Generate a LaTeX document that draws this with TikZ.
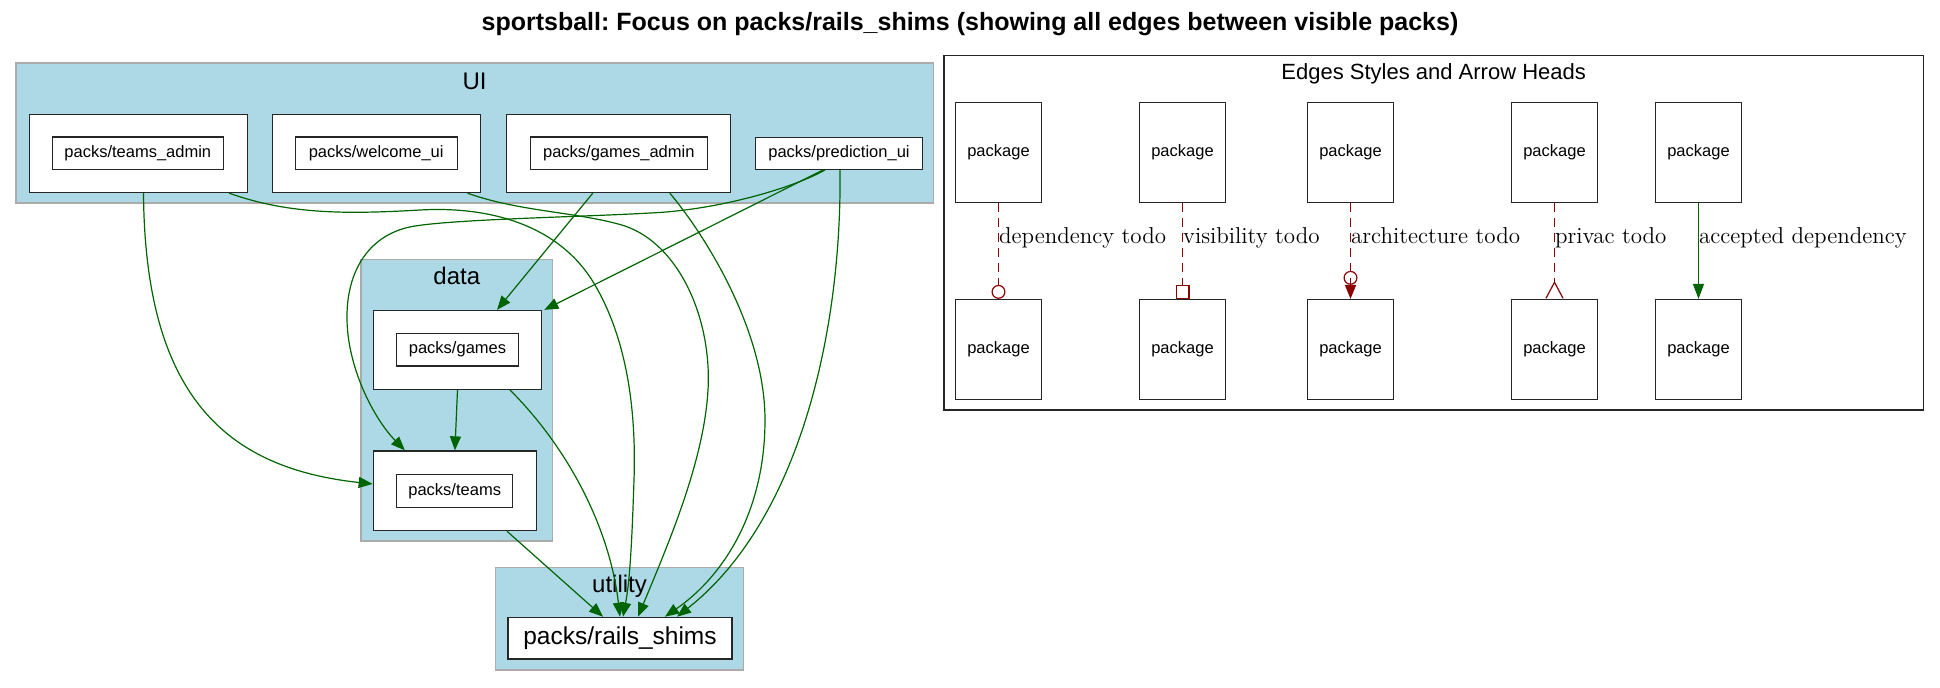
\documentclass[tikz,border=0pt]{standalone}
\usepackage{fontspec}
\newfontfamily\sansf{Liberation Sans}
\usetikzlibrary{arrows.meta}
\definecolor{clusterfill}{HTML}{ADD8E6}
\definecolor{clusterline}{HTML}{ABABAB}
\definecolor{depgreen}{HTML}{006400}
\definecolor{todored}{HTML}{8B0000}
\frenchspacing

\begin{document}
\begin{tikzpicture}[x=0.5pt, y=-0.5pt,
  cluster/.style={draw=clusterline, fill=clusterfill, line width=0.7pt, inner sep=0pt},
  legendframe/.style={draw=black!85, fill=white, line width=0.6pt, inner sep=0pt},
  packframe/.style={draw=black!85, fill=white, line width=0.65pt, inner sep=0pt},
  packname/.style={draw=black!85, fill=white, line width=0.65pt, inner sep=0pt,
    font=\sansf\fontsize{8.25}{9}\selectfont},
  clabel/.style={anchor=base, inner sep=0pt, font=\sansf\fontsize{12}{14}\selectfont},
  dep/.style={color=depgreen, line width=0.6pt, -{Triangle[length=7pt, width=5.5pt]}},
  todo/.style={color=todored, line width=0.6pt, dash pattern=on 4.5pt off 3pt},
  legendpkg/.style={draw=black!85, fill=white, line width=0.65pt, minimum width=43pt,
    minimum height=50pt, inner sep=0pt, font=\sansf\fontsize{8.25}{9}\selectfont},
  elabel/.style={anchor=base west, inner sep=0pt, text=black,
    font=\fontsize{11.5}{13}\selectfont},
]
\useasboundingbox (0,0) rectangle (1940,687);

% title
\node[anchor=base, inner sep=0pt, font=\sansf\bfseries\fontsize{12.5}{15}\selectfont] (title)
  at (970,30) {sportsball: Focus on packs/rails\_shims (showing all edges between visible packs)};

% clusters
\node[cluster, minimum width=458.65pt, minimum height=70pt] (ui) at (474.65,133) {};
\node[clabel] (uilabel) at (474.65,89) {UI};
\node[cluster, minimum width=95.85pt, minimum height=140.85pt] (data) at (456.85,400.15) {};
\node[clabel] (datalabel) at (456.85,284.3) {data};
\node[cluster, minimum width=123.8pt, minimum height=51.35pt] (utility) at (619.5,618.65) {};
\node[clabel] (utilitylabel) at (619.5,592.5) {utility};

% packs in UI
\node[packframe, minimum width=109pt, minimum height=39pt] (taO) at (138.5,153.5) {};
\node[packname, minimum width=85.5pt, minimum height=16.2pt] (ta) at (137.8,153.2) {packs/teams\_admin};
\node[packframe, minimum width=104pt, minimum height=39pt] (weO) at (376.5,153.5) {};
\node[packname, minimum width=81pt, minimum height=16.2pt] (we) at (376.2,153.2) {packs/welcome\_ui};
\node[packframe, minimum width=112pt, minimum height=39pt] (gaO) at (618.5,153.5) {};
\node[packname, minimum width=88.5pt, minimum height=16.2pt] (ga) at (618.8,153.2) {packs/games\_admin};
\node[packname, minimum width=83.7pt, minimum height=16pt] (pu) at (839,153.3) {packs/prediction\_ui};

% packs in data
\node[packframe, minimum width=84.2pt, minimum height=39.4pt] (gO) at (457.5,349.9) {};
\node[packname, minimum width=60.8pt, minimum height=16.35pt] (g) at (457.5,349.7) {packs/games};
\node[packframe, minimum width=81.6pt, minimum height=39.75pt] (teO) at (454.9,490.75) {};
\node[packname, minimum width=58pt, minimum height=16.5pt] (te) at (454.7,490.8) {packs/teams};

% pack in utility
\node[packname, minimum width=112pt, minimum height=20.85pt, font=\sansf\fontsize{12.25}{14}\selectfont]
  (rs) at (620,638.2) {packs/rails\_shims};

% dependencies
\draw[dep] ([xshift=2.5pt]taO.south) .. controls (145,395) and (225,468) .. ([yshift=3.4pt]teO.west);
\draw[dep] ([xshift=-9.5pt]taO.south east) .. controls (290,215) and (350,214) .. (420,210)
  .. controls (490,206) and (560,225) .. (595,285)
  .. controls (630,345) and (636,420) .. (634,480)
  .. controls (632,540) and (630,580) .. ([xshift=1.5pt]rs.north);
\draw[dep] ([xshift=-6.85pt]weO.south east) .. controls (520,212) and (580,212) .. (625,226)
  .. controls (680,245) and (712,320) .. (708,390)
  .. controls (704,460) and (670,540) .. ([xshift=9pt]rs.north);
\draw[dep] ([xshift=-12.85pt]gaO.south) -- ([xshift=19.75pt]gO.north);
\draw[dep] ([xshift=25.65pt]gaO.south) .. controls (705,235) and (765,330) .. (765,420)
  .. controls (765,510) and (725,575) .. ([xshift=22.5pt]rs.north);
\draw[dep] ([xshift=-8pt]pu.south) -- ([xshift=1pt]gO.north east);
\draw[dep] ([xshift=-7pt]pu.south) .. controls (795,187) and (720,210) .. (650,213)
  .. controls (580,217) and (460,219) .. (415,226)
  .. controls (370,233) and (346,270) .. (347,320)
  .. controls (348,370) and (375,420) .. ([xshift=-25pt]teO.north);
\draw[dep] ([xshift=0.5pt]pu.south) .. controls (842,330) and (800,520) .. ([xshift=28.5pt]rs.north);
\draw[dep] (gO.south) -- (teO.north);
\draw[dep] ([xshift=26.25pt]gO.south) .. controls (570,450) and (610,530) .. (rs.north);
\draw[dep] ([xshift=26pt]teO.south) -- ([xshift=-8.5pt]rs.north);

% legend
\node[legendframe, minimum width=489.65pt, minimum height=177.35pt] (legend) at (1433.65,232.65) {};
\node[anchor=base, inner sep=0pt, font=\sansf\fontsize{11}{13}\selectfont] (legendtitle)
  at (1433.65,79.3) {Edges Styles and Arrow Heads};

\node[legendpkg] (lt1) at (998.5,152.5) {package};
\node[legendpkg] (lb1) at (998.5,349.5) {package};
\node[legendpkg] (lt2) at (1182.5,152.5) {package};
\node[legendpkg] (lb2) at (1182.5,349.5) {package};
\node[legendpkg] (lt3) at (1350.5,152.5) {package};
\node[legendpkg] (lb3) at (1350.5,349.5) {package};
\node[legendpkg] (lt4) at (1554.5,152.5) {package};
\node[legendpkg] (lb4) at (1554.5,349.5) {package};
\node[legendpkg] (lt5) at (1698.5,152.5) {package};
\node[legendpkg] (lb5) at (1698.5,349.5) {package};

\draw[todo, -{Circle[open, length=7pt, width=7pt]}]
  (lt1) -- node[elabel, pos=0.42] {dependency todo} (lb1);
\draw[todo, -{Square[open, length=7pt, width=7pt]}]
  (lt2) -- node[elabel, pos=0.42] {visibility todo} (lb2);
\draw[todo, -{Circle[open, length=7pt, width=7pt, sep=0pt] Triangle[length=7pt, width=5.6pt, sep=0pt]}]
  (lt3) -- node[elabel, pos=0.42] {architecture todo} (lb3);
\draw[todo, -{Straight Barb[reversed, length=8pt, width=8.5pt]}]
  (lt4) -- node[elabel, pos=0.42] {privac todo} (lb4);
\draw[dep, -{Triangle[length=7.5pt, width=5.5pt]}]
  (lt5) -- node[elabel, pos=0.42] {accepted dependency} (lb5);
\end{tikzpicture}
\end{document}
